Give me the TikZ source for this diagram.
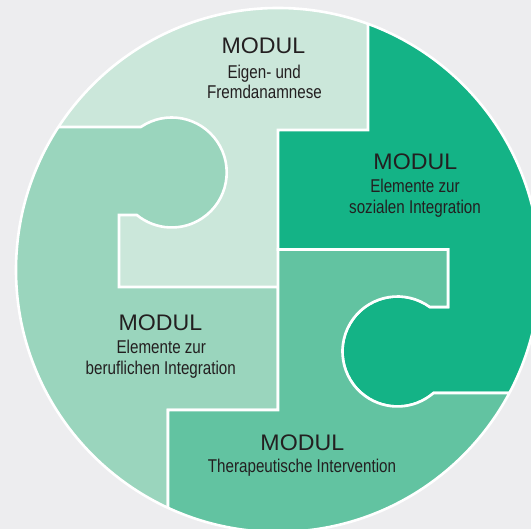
\documentclass[tikz,border=0pt]{standalone}
\usepackage{fontspec}
\setmainfont{Liberation Sans}
\newfontfamily\headfont[FakeStretch=1.03]{Liberation Sans}
\newfontfamily\narrowfont[FakeStretch=0.82]{Liberation Sans}
\definecolor{bg}{HTML}{EDEDEF}
\definecolor{pale}{HTML}{CBE7DA}
\definecolor{medium}{HTML}{9AD5BD}
\definecolor{mid}{HTML}{62C3A1}
\definecolor{deep}{HTML}{14B386}
\definecolor{ink}{HTML}{231F20}
\begin{document}
\begin{tikzpicture}[x=1pt,y=1pt,
  title/.style={anchor=base, inner sep=0pt, text=ink, font=\headfont\fontsize{22.5}{22.5}\selectfont},
  sub/.style={anchor=base, inner sep=0pt, text=ink, font=\narrowfont\fontsize{18.5}{18.5}\selectfont},
  seam/.style={draw=white, line width=2.6pt, line join=miter}]
\useasboundingbox (0,0) rectangle (531,529);
\fill[bg] (0,0) rectangle (531,529);

% puzzle pieces, cut to the disc
\begin{scope}
  \clip (278,259) circle[radius=262pt];
  \fill[pale] (-10,-10) rectangle (600,600);
  % left piece with its round knob
  \path[fill=medium, seam] (-10,402) -- (140.8,402)
    arc[start angle=124.2, end angle=-129.4, radius=55pt]
    -- (119,314) -- (119,242) -- (278,242) -- (278,119) -- (168,119)
    -- (168,-10) -- (-10,-10) -- cycle;
  % right piece with its round knob
  \path[fill=deep, seam] (368,600) -- (368,399) -- (278,399) -- (278,279.5)
    -- (448,279.5) -- (448,222) -- (429.8,222)
    arc[start angle=54, end angle=311, radius=55pt]
    -- (600,136) -- (600,600) -- cycle;
  % bottom piece
  \path[fill=mid, seam] (278,279.5) -- (448,279.5) -- (448,222) -- (429.8,222)
    arc[start angle=54, end angle=311, radius=55pt]
    -- (600,136) -- (600,-10) -- (168,-10) -- (168,119) -- (278,119) -- cycle;
\end{scope}
\draw[white, line width=2.6pt] (278,259) circle[radius=262pt];

% labels
\node[title] (t1) at (263.5,475) {MODUL};
\node[sub] (t1a) at (264.2,450.7) {Eigen- und};
\node[sub] (t1b) at (264.5,430.7) {Fremdanamnese};

\node[title] (t2) at (415.3,359) {MODUL};
\node[sub] (t2a) at (415,336.3) {Elemente zur};
\node[sub] (t2b) at (415,315.7) {sozialen Integration};

\node[title] (t3) at (160.5,198) {MODUL};
\node[sub] (t3a) at (161.3,175.7) {Elemente zur};
\node[sub] (t3b) at (160.8,154.7) {beruflichen Integration};

\node[title] (t4) at (302.3,78.3) {MODUL};
\node[sub] (t4a) at (302,56.3) {Therapeutische Intervention};
\end{tikzpicture}
\end{document}
